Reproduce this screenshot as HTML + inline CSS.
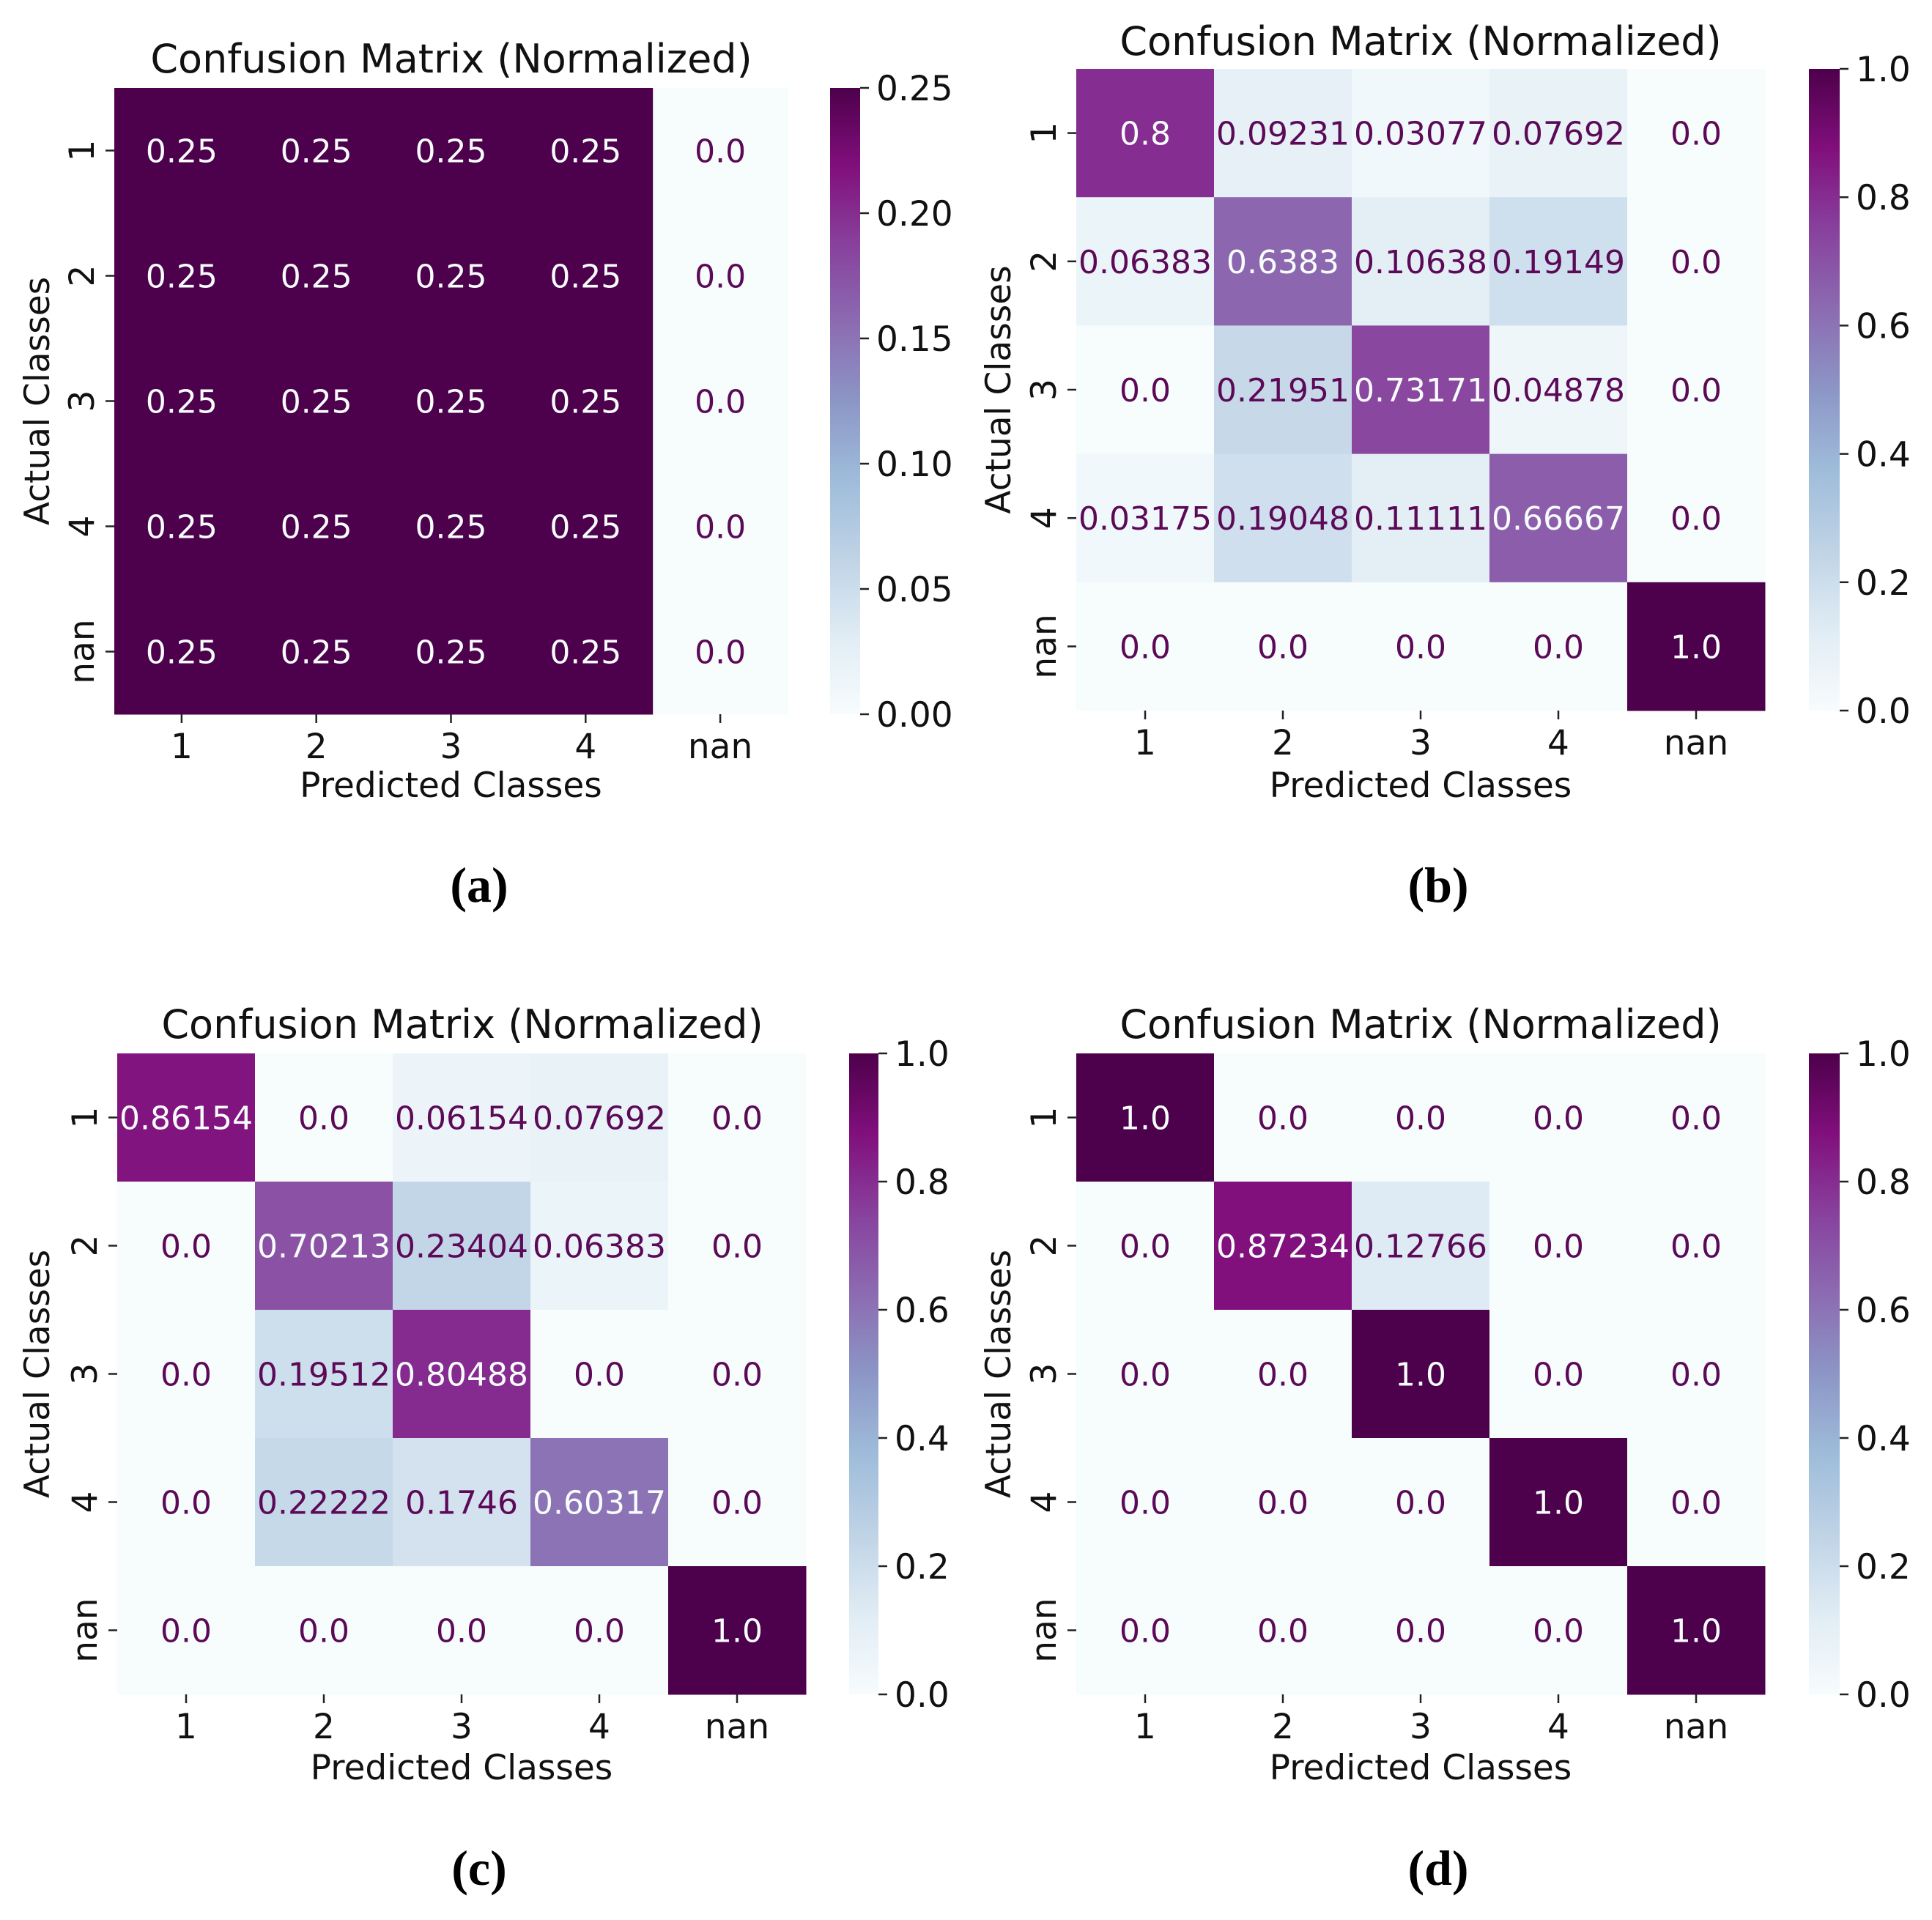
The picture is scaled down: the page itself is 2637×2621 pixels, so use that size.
<!DOCTYPE html>
<html><head><meta charset="utf-8">
<style>
html,body{margin:0;padding:0;background:#fff;}
svg{display:block;}
text{font-family:"DejaVu Sans","Liberation Sans",sans-serif;}
.cap{font-family:"Liberation Serif",serif;font-weight:bold;}
</style></head>
<body>
<svg id="fig" width="2637" height="2621" viewBox="0 0 2637 2621" xmlns="http://www.w3.org/2000/svg">
<defs>
<linearGradient id="bupu" x1="0" y1="1" x2="0" y2="0">
<stop offset="0" stop-color="#f7fcfd"/><stop offset="0.125" stop-color="#e0ecf4"/>
<stop offset="0.25" stop-color="#bfd3e6"/><stop offset="0.375" stop-color="#9ebcda"/>
<stop offset="0.5" stop-color="#8c96c6"/><stop offset="0.625" stop-color="#8c6bb1"/>
<stop offset="0.75" stop-color="#88419d"/><stop offset="0.875" stop-color="#810f7c"/>
<stop offset="1" stop-color="#4d004b"/>
</linearGradient>
</defs>
</svg>
<script>
const classLabels = ["1","2","3","4","nan"];
const matA = [[0.25,0.25,0.25,0.25,0.0],[0.25,0.25,0.25,0.25,0.0],[0.25,0.25,0.25,0.25,0.0],[0.25,0.25,0.25,0.25,0.0],[0.25,0.25,0.25,0.25,0.0]];
const matB = [[0.8,0.09231,0.03077,0.07692,0.0],[0.06383,0.6383,0.10638,0.19149,0.0],[0.0,0.21951,0.73171,0.04878,0.0],[0.03175,0.19048,0.11111,0.66667,0.0],[0.0,0.0,0.0,0.0,1.0]];
const matC = [[0.86154,0.0,0.06154,0.07692,0.0],[0.0,0.70213,0.23404,0.06383,0.0],[0.0,0.19512,0.80488,0.0,0.0],[0.0,0.22222,0.1746,0.60317,0.0],[0.0,0.0,0.0,0.0,1.0]];
const matD = [[1.0,0.0,0.0,0.0,0.0],[0.0,0.87234,0.12766,0.0,0.0],[0.0,0.0,1.0,0.0,0.0],[0.0,0.0,0.0,1.0,0.0],[0.0,0.0,0.0,0.0,1.0]];
const cbTicksA = [0,0.05,0.10,0.15,0.20,0.25];
const cbTickLabelsA = ["0.00","0.05","0.10","0.15","0.20","0.25"];
const cbTicksB = [0,0.2,0.4,0.6,0.8,1.0];
const cbTickLabelsB = ["0.0","0.2","0.4","0.6","0.8","1.0"];
const captions = ["(a)","(b)","(c)","(d)"];

const NS="http://www.w3.org/2000/svg";
const svg=document.getElementById('fig');
const stops=[[0,[247,252,253]],[0.125,[224,236,244]],[0.25,[191,211,230]],[0.375,[158,188,218]],[0.5,[140,150,198]],[0.625,[140,107,177]],[0.75,[136,65,157]],[0.875,[129,15,124]],[1,[77,0,75]]];
function cmap(t){t=Math.max(0,Math.min(1,t));for(let i=0;i<stops.length-1;i++){const[a,ca]=stops[i],[b,cb]=stops[i+1];if(t<=b){const f=(t-a)/(b-a);return 'rgb('+ca.map((v,k)=>Math.round(v+(cb[k]-v)*f)).join(',')+')';}}return 'rgb(77,0,75)';}
function mk(tag,attrs,parent){const e=document.createElementNS(NS,tag);for(const k in attrs)e.setAttribute(k,attrs[k]);(parent||svg).appendChild(e);return e;}
function fmt(v){return Number.isInteger(v)?v.toFixed(1):String(v);}

const FS=47, AFS=44;
const panels=[
 {id:'a',m:matA,vmax:0.25,ticks:cbTicksA,tl:cbTickLabelsA,x0:156,x1:1075,y0:120,y1:975,cb0:1133,cb1:1174,title:[616,81],xl:1071,yl:50,cap:[654,1208]},
 {id:'b',m:matB,vmax:1,ticks:cbTicksB,tl:cbTickLabelsB,x0:1469,x1:2409,y0:94,y1:970,cb0:2469,cb1:2511,title:[1939,57],xl:1071,yl:1362,cap:[1963,1208]},
 {id:'c',m:matC,vmax:1,ticks:cbTicksB,tl:cbTickLabelsB,x0:160,x1:1100,y0:1438,y1:2313,cb0:1159,cb1:1199,title:[631,1399],xl:2412,yl:50,cap:[654,2550]},
 {id:'d',m:matD,vmax:1,ticks:cbTicksB,tl:cbTickLabelsB,x0:1469,x1:2409,y0:1438,y1:2313,cb0:2469,cb1:2511,title:[1939,1399],xl:2412,yl:1362,cap:[1963,2550]}
];
panels.forEach((p,pi)=>{
 const g=mk('g',{});
 
 
 const n=classLabels.length;
 const cw=(p.x1-p.x0)/n, ch=(p.y1-p.y0)/n;
 const xS=j=>p.x0+j*cw, yS=i=>p.y0+i*ch;
 p.m.forEach((row,i)=>row.forEach((v,j)=>{
  const t=v/p.vmax;
  const r=mk('rect',{x:xS(j),y:yS(i),width:cw+0.5,height:ch+0.5,fill:cmap(t)},g);
  
  
 }));
 p.m.forEach((row,i)=>row.forEach((v,j)=>{
  const t=v/p.vmax;
  const tx=mk('text',{x:xS(j)+cw/2,y:yS(i)+ch/2+16,'font-size':AFS,'text-anchor':'middle',fill:t>0.5?'#f7fcfd':'#5c0a58'},g);
  tx.textContent=fmt(v);
  
  
 }));
 classLabels.forEach((lab,k)=>{
  const cx=xS(k)+cw/2, cy=yS(k)+ch/2;
  mk('line',{x1:cx,y1:p.y1,x2:cx,y2:p.y1+12,stroke:'#222','stroke-width':2.5},g);
  const xt=mk('text',{x:cx,y:p.y1+60,'font-size':FS,'text-anchor':'middle',fill:'#111'},g);
  xt.textContent=lab;
  
  
  mk('line',{x1:p.x0-12,y1:cy,x2:p.x0,y2:cy,stroke:'#222','stroke-width':2.5},g);
  const yt=mk('text',{x:0,y:0,'font-size':FS,'text-anchor':'middle',fill:'#111',transform:`translate(${p.x0-28},${cy}) rotate(-90)`},g);
  yt.textContent=lab;
  
  
 });
 const ti=mk('text',{x:p.title[0],y:p.title[1]+18,'font-size':54,'text-anchor':'middle',fill:'#111'},g);
 ti.textContent='Confusion Matrix (Normalized)';
 
 
 const xl=mk('text',{x:(p.x0+p.x1)/2,y:p.xl+17,'font-size':FS,'text-anchor':'middle',fill:'#111'},g);
 xl.textContent='Predicted Classes';
 
 
 const yl=mk('text',{x:0,y:0,'font-size':FS,'text-anchor':'middle',fill:'#111',transform:`translate(${p.yl+17},${(p.y0+p.y1)/2}) rotate(-90)`},g);
 yl.textContent='Actual Classes';
 
 
 const cb=mk('rect',{x:p.cb0,y:p.y0,width:p.cb1-p.cb0,height:p.y1-p.y0,fill:'url(#bupu)'},g);
 
 
 const cbY=v=>p.y1-(v/p.vmax)*(p.y1-p.y0);
 p.ticks.forEach((v,k)=>{
  const y=cbY(v);
  mk('line',{x1:p.cb1,y1:y,x2:p.cb1+12,y2:y,stroke:'#222','stroke-width':2.5},g);
  const ct=mk('text',{x:p.cb1+22,y:y+17,'font-size':FS,fill:'#111'},g);
  ct.textContent=p.tl[k];
  
  
 });
 const cp=mk('text',{x:p.cap[0],y:p.cap[1]+23,'font-size':68,'text-anchor':'middle',fill:'#000',class:'cap'},g);
 cp.textContent=captions[pi];
 
 
});
</script>
</body></html>
